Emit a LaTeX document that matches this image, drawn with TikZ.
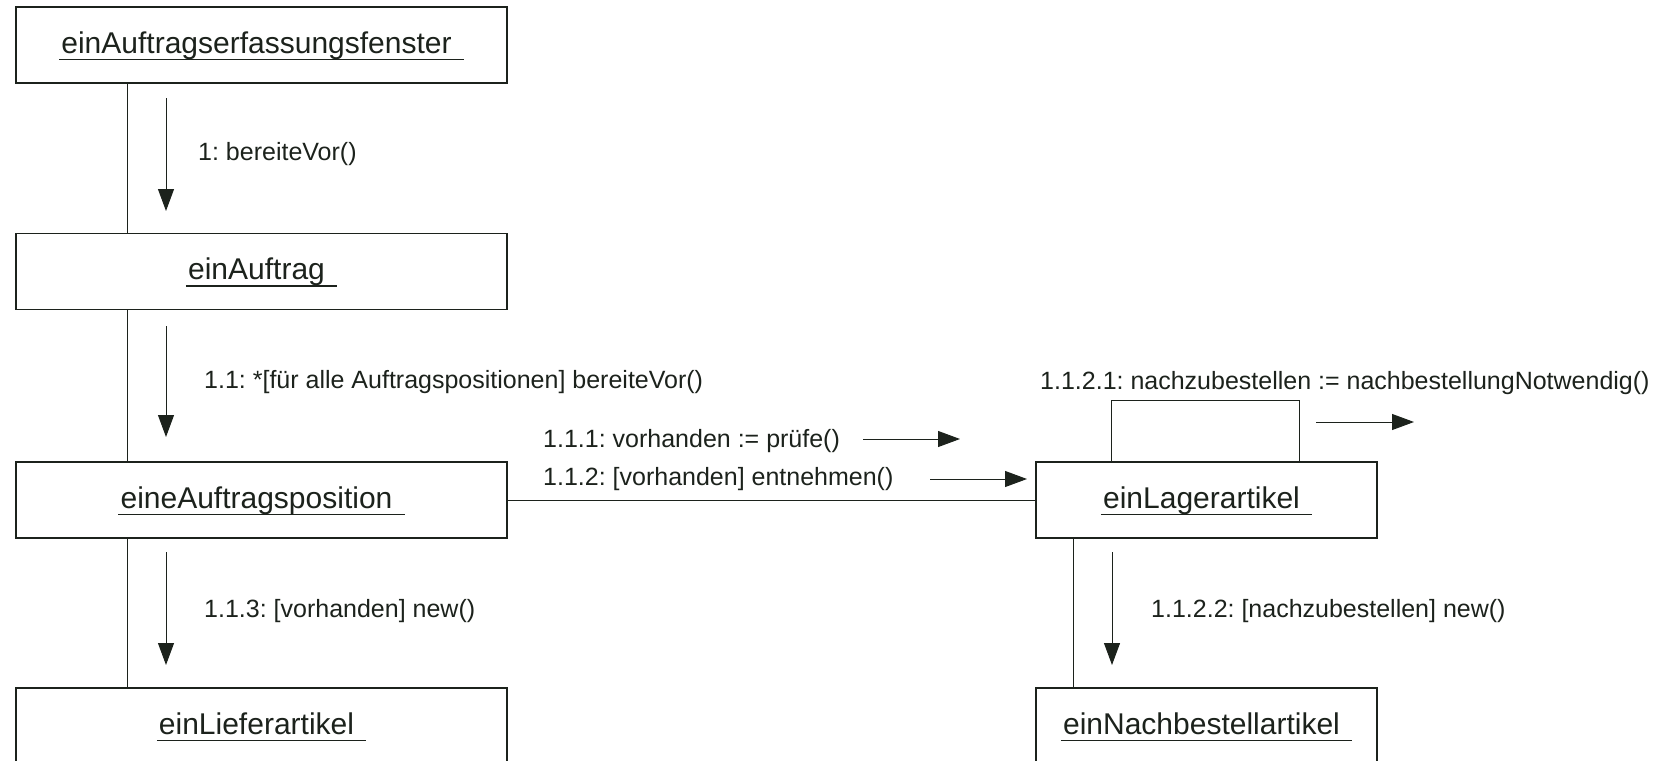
\documentclass[tikz,border=0pt]{standalone}
\usepackage{fontspec}
\setmainfont{Liberation Sans}
\usetikzlibrary{arrows.meta}
\definecolor{ink}{RGB}{28,34,28}
\frenchspacing

\tikzset{
  objbox/.style={draw=ink, line width=1.5pt, minimum height=76pt, inner sep=0pt, fill=white},
  objtitle/.style={anchor=base, inner sep=0pt, text=ink, font=\fontsize{30}{36}\selectfont},
  objuline/.style={draw=ink, line width=1.5pt},
  link/.style={draw=ink, line width=1pt},
  msg/.style={draw=ink, line width=1pt, -{Triangle[length=22pt,width=16pt]}},
  msglabel/.style={anchor=base west, inner sep=0pt, text=ink, font=\fontsize{25}{30}\selectfont},
}

% object box with an underlined instance name
\newcommand\umlobj[4]{%
  \node[objbox, minimum width=#3] (#1) at (#2) {};
  \node[objtitle] (#1-t) at ([xshift=-5pt,yshift=-8pt]#1.center) {#4};
  \draw[objuline] ([xshift=-2pt,yshift=-6.5pt]#1-t.base west) -- ([xshift=12pt,yshift=-6.5pt]#1-t.base east);
}

\begin{document}
\begin{tikzpicture}[x=1pt, y=-1pt]
  \useasboundingbox (0,0) rectangle (1664,760);

  % objects
  \umlobj{fen}{261.5,45}{491pt}{einAuftragserfassungsfenster}
  \umlobj{auf}{261.5,271.5}{491pt}{einAuftrag}
  \umlobj{pos}{261.5,500}{491pt}{eineAuftragsposition}
  \umlobj{lief}{261.5,726}{491pt}{einLieferartikel}
  \umlobj{lag}{1206.5,500}{341pt}{einLagerartikel}
  \umlobj{nach}{1206.5,726}{341pt}{einNachbestellartikel}

  % links
  \draw[link] ([xshift=112pt]fen.south west) -- ([xshift=112pt]auf.north west);
  \draw[link] ([xshift=112pt]auf.south west) -- ([xshift=112pt]pos.north west);
  \draw[link] ([xshift=112pt]pos.south west) -- ([xshift=112pt]lief.north west);
  \draw[link] (pos.east) -- (lag.west);
  \draw[link] ([xshift=38pt]lag.south west) -- ([xshift=38pt]nach.north west);
  \draw[link] ([xshift=76pt]lag.north west) -- ++(0,-61) -| ([xshift=264pt]lag.north west);

  % messages
  \draw[msg] (166,98) -- (166,211);
  \node[msglabel] (m1) at (198,160) {1: bereiteVor()};

  \draw[msg] (166,326) -- (166,437);
  \node[msglabel] (m11) at (204,388) {1.1: *[für alle Auftragspositionen] bereiteVor()};

  \draw[msg] (863,439) -- (960,439);
  \node[msglabel] (m111) at (543,447) {1.1.1: vorhanden := prüfe()};

  \draw[msg] (930,479) -- (1027,479);
  \node[msglabel] (m112) at (543,485) {1.1.2: [vorhanden] entnehmen()};

  \draw[msg] (166,552) -- (166,665);
  \node[msglabel] (m113) at (204,617) {1.1.3: [vorhanden] new()};

  \draw[msg] (1316,422) -- (1414,422);
  \node[msglabel] (m1121) at (1040,389) {1.1.2.1: nachzubestellen := nachbestellungNotwendig()};

  \draw[msg] (1112,552) -- (1112,665);
  \node[msglabel] (m1122) at (1151,617) {1.1.2.2: [nachzubestellen] new()};
\end{tikzpicture}
\end{document}
